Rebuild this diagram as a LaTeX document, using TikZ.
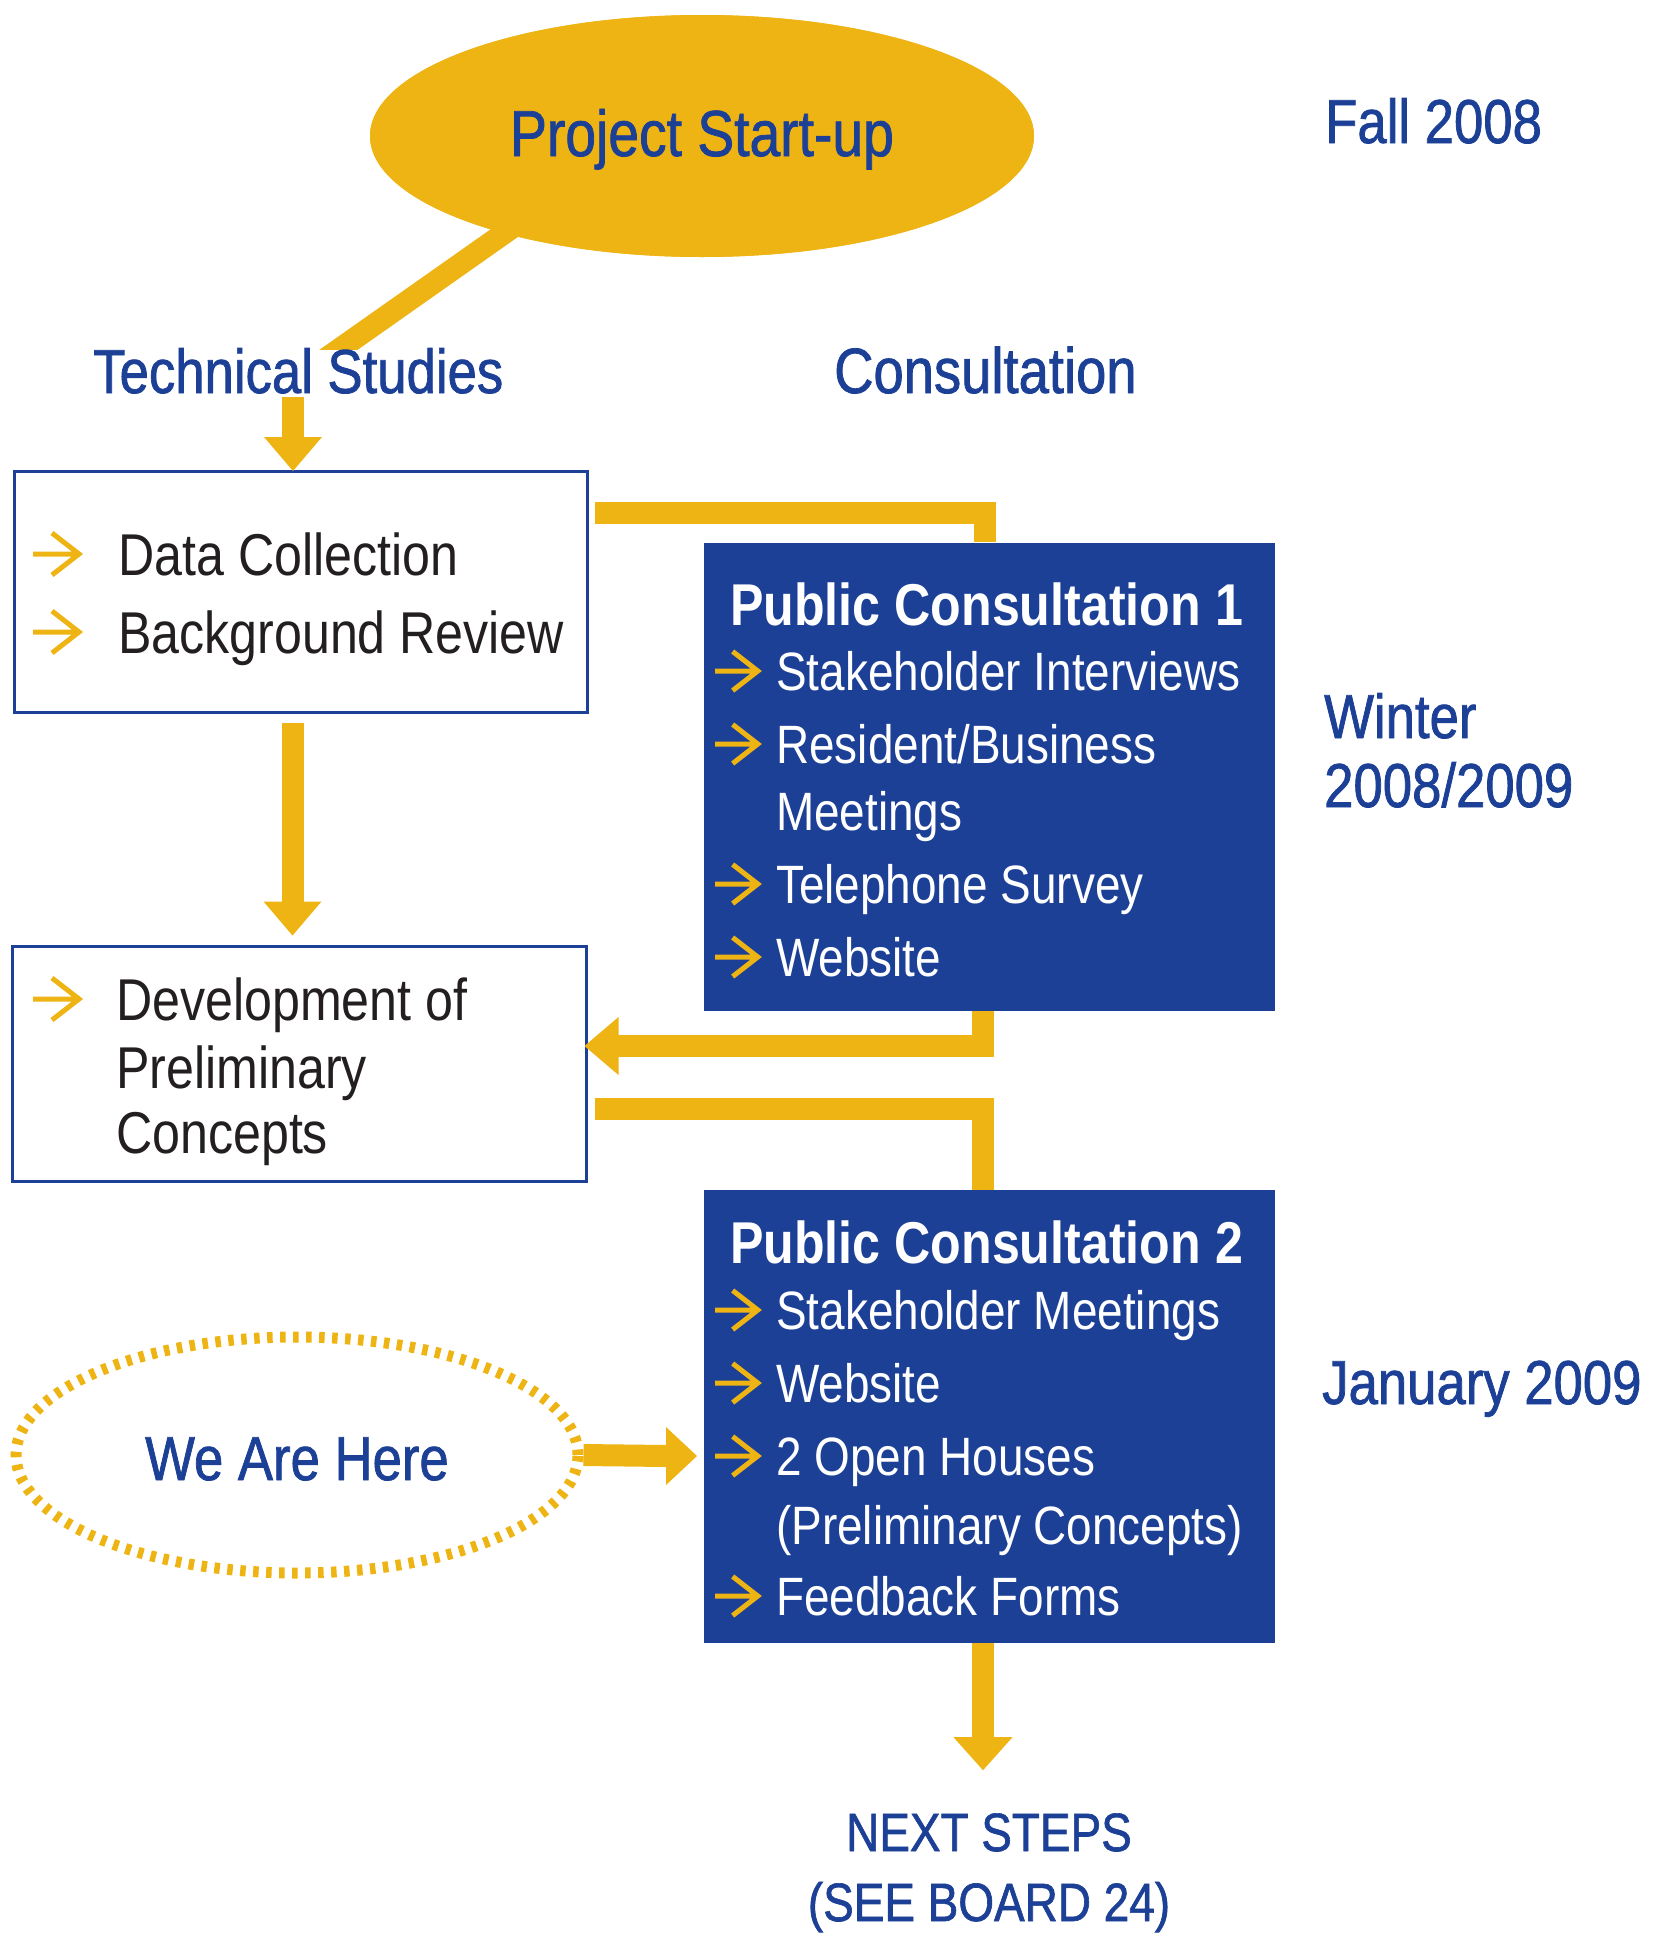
\documentclass[tikz,border=0pt]{standalone}
\usepackage{fontspec}
\setmainfont[FakeStretch=0.85]{Liberation Sans}
\newfontfamily\labfont[FakeStretch=0.85,FakeBold=1.2]{Liberation Sans}
\usetikzlibrary{shapes.geometric,calc}
\definecolor{ay}{HTML}{EEB413}
\definecolor{bb}{HTML}{1D4097}
\definecolor{tk}{HTML}{231F20}
\tikzset{
 band/.style={draw=ay,line width=22pt},
 tipfill/.style={fill=ay},
 txt/.style={inner sep=0pt,anchor=base west},
 lab/.style={txt,text=bb,font=\labfont\fontsize{62}{62}\selectfont},
 btx/.style={txt,text=tk,font=\fontsize{59}{59}\selectfont},
 ptitle/.style={txt,text=white,font=\bfseries\fontsize{59}{59}\selectfont},
 pitem/.style={txt,text=white,font=\fontsize{54}{54}\selectfont},
 bul/.pic={\draw[ay,line width=5pt] (0,0)--(44,0) (19,-21)--(46,0)--(19,21);}
}
\begin{document}
\begin{tikzpicture}[x=1pt,y=-1pt]
\useasboundingbox (0,0) rectangle (1655,1933);

% ---- shapes
\node[ellipse,fill=ay,minimum width=664pt,minimum height=242pt,inner sep=0pt] (start) at (702,136) {};
\node[draw=bb,line width=3pt,minimum width=573pt,minimum height=241pt,inner sep=0pt] (box1) at (300.5,591.5) {};
\node[draw=bb,line width=3pt,minimum width=574pt,minimum height=235pt,inner sep=0pt] (box2) at (299,1063.5) {};
\node[ellipse,draw=ay,line width=11pt,dash pattern=on 5.5pt off 7.5pt,minimum width=562pt,minimum height=236pt,inner sep=0pt] (here) at (297,1455) {};

% ---- connectors (behind blue boxes)
\begin{scope}
\clip (0,0) rectangle (1655,349);
\draw[band] (589,173.5) -- (307,372);
\end{scope}
\fill[ay] (start.center) ellipse [x radius=332pt, y radius=121pt];

\coordinate (tsa) at (293,397);
\draw[band] (tsa) -- (293,438);
\fill[tipfill] (293,471) -- (264,437) -- (322,437) -- cycle;

\draw[band] ($(box1.north east)+(6,43)$) -| ($(box1.north east)+(396,72)$);
\draw[band] ($(box1.south west)+(280,9)$) -- ($(box1.south west)+(280,194)$);
\fill[tipfill] ($(box2.north west)+(282,-9)$) -- ++(-29,-34) -- ++(58,0) -- cycle;

\draw[band] (983,1011) |- (618,1046);
\fill[tipfill] ($(box2.east)+(-3,-17.5)$) -- ++(34,-29) -- ++(0,58) -- cycle;

\draw[band] ($(box2.north east)+(7,164)$) -| (983,1190);

\draw[band] (here.east) -- (667,1456);
\fill[tipfill] (697,1456) -- (666,1427) -- (666,1485) -- cycle;

\node[fill=bb,minimum width=571pt,minimum height=468pt,inner sep=0pt] (pc1) at (989.5,777) {};
\node[fill=bb,minimum width=571pt,minimum height=453pt,inner sep=0pt] (pc2) at (989.5,1416.5) {};

\draw[band] ($(pc2.south)+(-6.5,0)$) -- ($(pc2.south)+(-6.5,95)$);
\fill[tipfill] ($(pc2.south)+(-6.5,127)$) -- ++(-29.5,-33) -- ++(59,0) -- cycle;

% ---- texts
\node[lab,anchor=base,font=\labfont\fontsize{65}{65}\selectfont] (startt) at (702,156) {Project Start-up};
\node[lab] (fall) at (1325,143) {Fall 2008};
\node[lab] (ts) at (93,393) {Technical Studies};
\node[lab,font=\labfont\fontsize{64}{64}\selectfont] (cons) at (834,393) {Consultation};
\node[lab] (win1) at (1324,738) {Winter};
\node[lab] (win2) at (1324,807) {2008/2009};
\node[lab] (jan) at (1322,1404) {January 2009};
\node[lab,anchor=base] (heret) at (297,1480) {We Are Here};
\node[lab,anchor=base,font=\labfont\fontsize{54}{54}\selectfont] (next1) at (989,1851) {NEXT STEPS};
\node[lab,anchor=base,font=\labfont\fontsize{54}{54}\selectfont] (next2) at (989,1921) {(SEE BOARD 24)};

\node[btx] (b1a) at (118,575) {Data Collection};
\node[btx] (b1b) at (118,653) {Background Review};
\pic at (33,554) {bul};
\pic at (33,632) {bul};

\node[btx] (b2a) at (116,1020) {Development of};
\node[btx] (b2b) at (116,1088) {Preliminary};
\node[btx] (b2c) at (116,1153) {Concepts};
\pic at (33,999) {bul};

\node[ptitle] (p1t) at (730,625) {Public Consultation 1};
\node[pitem] (p1a) at (776,690) {Stakeholder Interviews};
\node[pitem] (p1b) at (776,763) {Resident/Business};
\node[pitem] (p1c) at (776,830) {Meetings};
\node[pitem] (p1d) at (776,903) {Telephone Survey};
\node[pitem] (p1e) at (776,976) {Website};
\foreach \yy in {671,744,884,957} \pic[scale=0.93] at (715,\yy) {bul};

\node[ptitle] (p2t) at (730,1263) {Public Consultation 2};
\node[pitem] (p2a) at (776,1329) {Stakeholder Meetings};
\node[pitem] (p2b) at (776,1402) {Website};
\node[pitem] (p2c) at (776,1475) {2 Open Houses};
\node[pitem] (p2d) at (776,1544) {(Preliminary Concepts)};
\node[pitem] (p2e) at (776,1615) {Feedback Forms};
\foreach \yy in {1310,1383,1456,1596} \pic[scale=0.93] at (715,\yy) {bul};
\end{tikzpicture}
\end{document}
